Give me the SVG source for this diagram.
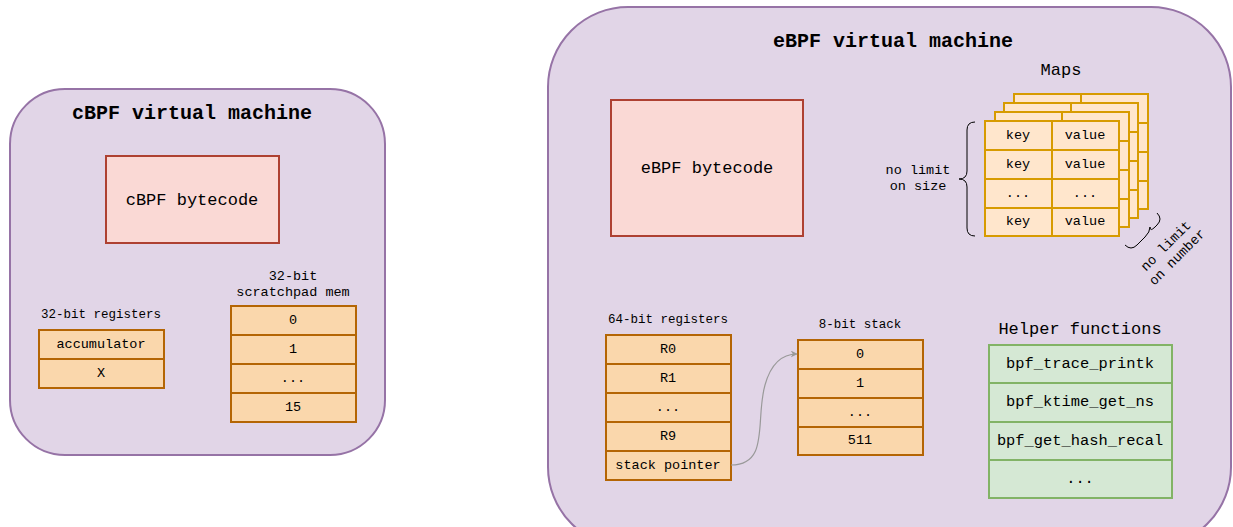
<svg xmlns="http://www.w3.org/2000/svg" width="1233" height="527" viewBox="0 0 1233 527">
<style>
text{font-family:"Liberation Mono","DejaVu Sans Mono",monospace;fill:#000;text-anchor:middle;dominant-baseline:central}
.vm{fill:#e1d5e7;stroke:#9673a6;stroke-width:2}
.title{font-weight:bold;font-size:20px}
.code{fill:#fad9d5;stroke:#ae4132;stroke-width:2}
.reg{fill:#fad7ac;stroke:#b46504;stroke-width:2}
.map{fill:#ffe6cc;stroke:#d79b00;stroke-width:2}
.help{fill:#d5e8d4;stroke:#82b366;stroke-width:2}
.big{font-size:17px}
.fn{font-size:15.4px}
.cell{font-size:13.5px}
.lbl{font-size:12.5px}
.brace{fill:none;stroke:#000;stroke-width:1}
</style>
<defs>
<marker id="ah" viewBox="0 0 10 10" refX="9" refY="5" markerWidth="7" markerHeight="7" orient="auto" markerUnits="userSpaceOnUse">
<path d="M0,0 L10,5 L0,10 L3,5 Z" fill="#999"/>
</marker>
</defs>
<g id="cbpf-vm">
<rect class="vm" x="10" y="89" width="375" height="366" rx="55"/>
<text class="title" x="192" y="113">cBPF virtual machine</text>
</g>
<g id="cbpf-bytecode">
<rect class="code" x="106" y="156" width="173" height="87"/>
<text class="big" x="192" y="200">cBPF bytecode</text>
</g>
<g id="cbpf-registers">
<text class="lbl" x="101" y="315">32-bit registers</text>
<rect class="reg" x="39" y="330" width="125" height="29"/>
<rect class="reg" x="39" y="359" width="125" height="29"/>
<text class="cell" x="101" y="344">accumulator</text>
<text class="cell" x="101" y="373">X</text>
</g>
<g id="cbpf-scratchpad">
<text class="cell" x="293" y="276">32-bit</text>
<text class="cell" x="293" y="292">scratchpad mem</text>
<rect class="reg" x="231" y="306" width="125" height="29"/>
<rect class="reg" x="231" y="335" width="125" height="29"/>
<rect class="reg" x="231" y="364" width="125" height="29"/>
<rect class="reg" x="231" y="393" width="125" height="29"/>
<text class="cell" x="293" y="320">0</text>
<text class="cell" x="293" y="349">1</text>
<text class="cell" x="293" y="378">...</text>
<text class="cell" x="293" y="407">15</text>
</g>
<g id="ebpf-vm">
<rect class="vm" x="548" y="7" width="683" height="540" rx="80"/>
<text class="title" x="893" y="41">eBPF virtual machine</text>
</g>
<g id="ebpf-bytecode">
<rect class="code" x="611" y="100" width="192" height="136"/>
<text class="big" x="707" y="168">eBPF bytecode</text>
</g>
<g id="maps">
<text class="big" x="1061" y="70">Maps</text>
<g>
<rect class="map" x="1014" y="94" width="134" height="115"/>
<line class="map" x1="1081" y1="94" x2="1081" y2="209"/>
<line class="map" x1="1014" y1="123" x2="1148" y2="123"/>
<line class="map" x1="1014" y1="152" x2="1148" y2="152"/>
<line class="map" x1="1014" y1="181" x2="1148" y2="181"/>
</g>
<g>
<rect class="map" x="1004" y="103" width="134" height="115"/>
<line class="map" x1="1071" y1="103" x2="1071" y2="218"/>
<line class="map" x1="1004" y1="132" x2="1138" y2="132"/>
<line class="map" x1="1004" y1="161" x2="1138" y2="161"/>
<line class="map" x1="1004" y1="190" x2="1138" y2="190"/>
</g>
<g>
<rect class="map" x="995" y="112" width="134" height="115"/>
<line class="map" x1="1062" y1="112" x2="1062" y2="227"/>
<line class="map" x1="995" y1="141" x2="1129" y2="141"/>
<line class="map" x1="995" y1="170" x2="1129" y2="170"/>
<line class="map" x1="995" y1="199" x2="1129" y2="199"/>
</g>
<g>
<rect class="map" x="985" y="121" width="67" height="29"/>
<rect class="map" x="1052" y="121" width="67" height="29"/>
<rect class="map" x="985" y="150" width="67" height="29"/>
<rect class="map" x="1052" y="150" width="67" height="29"/>
<rect class="map" x="985" y="179" width="67" height="29"/>
<rect class="map" x="1052" y="179" width="67" height="29"/>
<rect class="map" x="985" y="208" width="67" height="28"/>
<rect class="map" x="1052" y="208" width="67" height="28"/>
<text class="cell" x="1018" y="135">key</text>
<text class="cell" x="1085" y="135">value</text>
<text class="cell" x="1018" y="164">key</text>
<text class="cell" x="1085" y="164">value</text>
<text class="cell" x="1018" y="193">...</text>
<text class="cell" x="1085" y="193">...</text>
<text class="cell" x="1018" y="221">key</text>
<text class="cell" x="1085" y="221">value</text>
</g>
<path class="brace" d="M975,122 Q967,122 967,130 L967,171 Q967,179 959,179 Q967,179 967,187 L967,228 Q967,236 975,236"/>
<text class="cell" x="918" y="170">no limit</text>
<text class="cell" x="918" y="186">on size</text>
<path class="brace" d="M1125,245 Q1131,251 1137,245 L1145,237 Q1150,232 1150,227 Q1150,232 1155,227 L1157,225 Q1163,219 1157,213"/>
<g transform="translate(1172,252) rotate(-45)">
<text class="cell" x="0" y="-8">no limit</text>
<text class="cell" x="0" y="8">on number</text>
</g>
</g>
<g id="ebpf-registers">
<text class="lbl" x="668" y="320">64-bit registers</text>
<rect class="reg" x="606" y="335" width="125" height="29"/>
<rect class="reg" x="606" y="364" width="125" height="29"/>
<rect class="reg" x="606" y="393" width="125" height="29"/>
<rect class="reg" x="606" y="422" width="125" height="29"/>
<rect class="reg" x="606" y="451" width="125" height="29"/>
<text class="cell" x="668" y="349">R0</text>
<text class="cell" x="668" y="378">R1</text>
<text class="cell" x="668" y="407">...</text>
<text class="cell" x="668" y="436">R9</text>
<text class="cell" x="668" y="465">stack pointer</text>
</g>
<g id="ebpf-stack">
<text class="lbl" x="860" y="325">8-bit stack</text>
<rect class="reg" x="798" y="340" width="125" height="29"/>
<rect class="reg" x="798" y="369" width="125" height="29"/>
<rect class="reg" x="798" y="398" width="125" height="29"/>
<rect class="reg" x="798" y="427" width="125" height="28"/>
<text class="cell" x="860" y="354">0</text>
<text class="cell" x="860" y="383">1</text>
<text class="cell" x="860" y="412">...</text>
<text class="cell" x="860" y="440">511</text>
</g>
<g id="helpers">
<text class="big" x="1080" y="329">Helper functions</text>
<rect class="help" x="989" y="345" width="183" height="38"/>
<rect class="help" x="989" y="383" width="183" height="39"/>
<rect class="help" x="989" y="422" width="183" height="38"/>
<rect class="help" x="989" y="460" width="183" height="38"/>
<text class="fn" x="1080" y="364">bpf_trace_printk</text>
<text class="fn" x="1080" y="402">bpf_ktime_get_ns</text>
<text class="fn" x="1080" y="441">bpf_get_hash_recal</text>
<text class="fn" x="1080" y="479">...</text>
</g>
<g id="connectors">
<path d="M731,465 C770,465 755,420 765,385 C772,360 785,354 797,354" fill="none" stroke="#999" stroke-width="1.2" marker-end="url(#ah)"/>
</g>
</svg>
